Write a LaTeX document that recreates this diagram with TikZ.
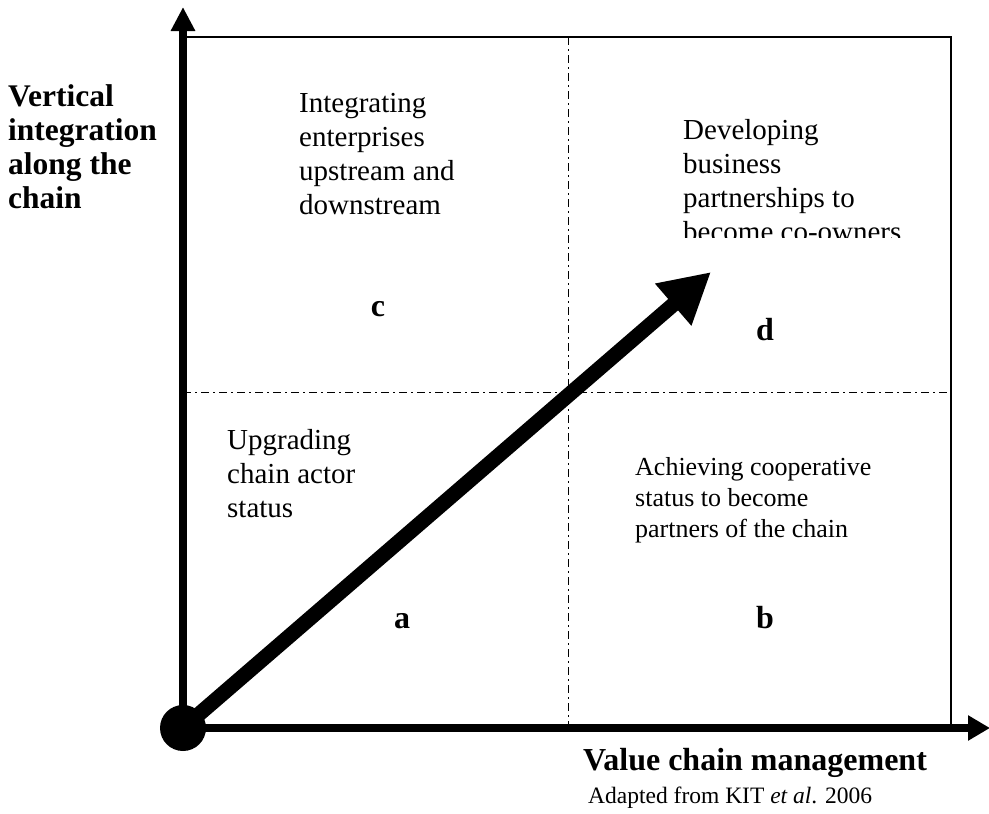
\documentclass[tikz,border=0pt]{standalone}
\usepackage{fontspec}
\setmainfont{Liberation Serif}
\usetikzlibrary{arrows.meta}
\begin{document}
\begin{tikzpicture}[x=1pt,y=1pt,
  axis/.style={line width=7.5pt},
  ddash/.style={line width=1pt, dash pattern=on 8pt off 4pt on 2pt off 4pt},
  qtext/.style={anchor=base west, inner sep=0pt, align=left, font=\fontsize{29}{34}\selectfont},
  btext/.style={anchor=base west, inner sep=0pt, align=left, font=\fontsize{26}{31}\selectfont},
  axlabel/.style={anchor=base west, inner sep=0pt, align=left, font=\bfseries\fontsize{31.5}{34}\selectfont},
  letter/.style={anchor=base, inner sep=0pt, font=\bfseries\fontsize{32}{36}\selectfont}]
\useasboundingbox (0,0) rectangle (989,-814);
% coordinates
\coordinate (O) at (183,-728);
\coordinate (Ytip) at (183,-7);
\coordinate (Xtip) at (990,-728);
\coordinate (TL) at (183,-37);
\coordinate (BR) at (951,-728);
\coordinate (Vtop) at (568,-37);
\coordinate (Vbot) at (568,-728);
\coordinate (Hl) at (183,-392);
\coordinate (Hr) at (951,-392);
\coordinate (D) at (711,-272);
% box and quadrant lines
\draw[line width=1.6pt] (TL) rectangle (BR);
\draw[ddash] (Vtop) -- (Vbot);
\draw[ddash] (Hl) -- (Hr);
% axes
\draw[axis, -{Triangle[length=24pt,width=23pt]}] (O) -- (Ytip);
\draw[axis, -{Triangle[length=22pt,width=24pt]}] (O) -- (Xtip);
% diagonal arrow
\draw[line width=15pt, -{Triangle[length=50pt,width=52pt]}] (O) -- (D);
\fill (O) circle (23pt);
% labels (anchor = baseline of last line)
\node[axlabel] (ylab) at (8,-208) {Vertical\\integration\\along the\\chain};
\node[qtext] (tc) at (299,-214) {Integrating\\enterprises\\upstream and\\downstream};
\begin{scope}
\clip (600,-60) rectangle (940,-237);
\node[qtext] (td) at (683,-241) {Developing\\business\\partnerships to\\become co-owners};
\end{scope}
\node[qtext] (ta) at (227,-517) {Upgrading\\chain actor\\status};
\node[btext] (tb) at (635,-537) {Achieving cooperative\\status to become\\partners of the chain};
\node[letter] (lc) at (378,-316) {c};
\node[letter] (ld) at (765,-340) {d};
\node[letter] (la) at (402,-628) {a};
\node[letter] (lb) at (765,-628) {b};
\node[anchor=base west, inner sep=0pt, font=\bfseries\fontsize{32}{36}\selectfont] (xlab) at (583,-770) {Value chain management};
\node[anchor=base west, inner sep=0pt, font=\fontsize{23.5}{28}\selectfont] (src) at (588,-803) {Adapted from KIT \textit{et al}. 2006};
\end{tikzpicture}
\end{document}
